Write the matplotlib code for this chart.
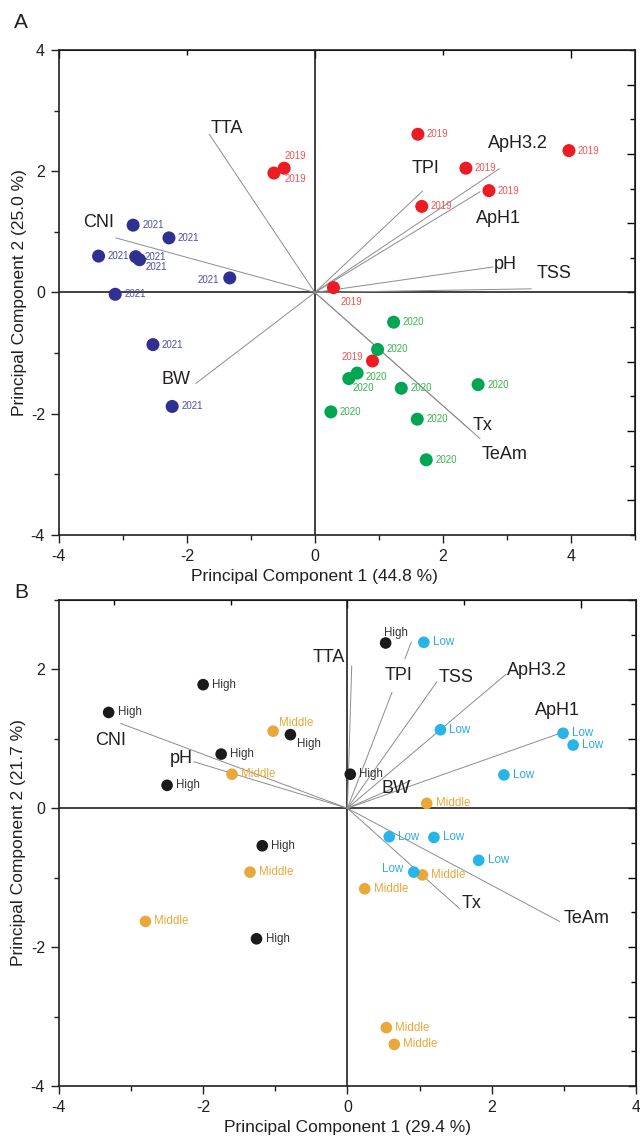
import numpy as np
import matplotlib
matplotlib.use("Agg")
import matplotlib.pyplot as plt

plt.rcParams['font.family'] = ['Liberation Sans', 'DejaVu Sans']
plt.rcParams['axes.unicode_minus'] = False

# panel A scores (PC1, PC2) per harvest year
a_2019_pc1 = [1.61, 2.36, 2.72, 3.97, 1.67, -0.48, -0.64, 0.29, 0.90]
a_2019_pc2 = [2.61, 2.05, 1.68, 2.34, 1.42, 2.05, 1.97, 0.08, -1.13]
a_2020_pc1 = [1.23, 0.98, 0.66, 0.53, 1.35, 2.55, 0.25, 1.60, 1.74]
a_2020_pc2 = [-0.49, -0.94, -1.33, -1.42, -1.58, -1.52, -1.97, -2.09, -2.76]
a_2021_pc1 = [-2.84, -2.28, -3.38, -2.80, -2.74, -1.33, -3.12, -2.53, -2.23]
a_2021_pc2 = [1.11, 0.90, 0.60, 0.59, 0.54, 0.24, -0.03, -0.86, -1.88]

# panel A loadings
a_vars = ['TTA', 'CNI', 'BW', 'TPI', 'ApH3.2', 'ApH1', 'pH', 'TSS', 'Tx', 'TeAm']
a_load_pc1 = [-1.65, -3.11, -1.86, 1.68, 2.88, 2.58, 2.78, 3.38, 2.42, 2.58]
a_load_pc2 = [2.61, 0.90, -1.50, 1.67, 2.04, 1.66, 0.42, 0.06, -2.26, -2.41]

# panel B scores per level
b_high_pc1 = [-2.00, -3.31, -1.75, -0.79, -2.50, -1.18, -1.26, 0.53, 0.04]
b_high_pc2 = [1.78, 1.38, 0.78, 1.06, 0.33, -0.54, -1.88, 2.38, 0.49]
b_mid_pc1 = [-1.03, -1.60, 1.10, 1.04, 0.24, -1.35, -2.80, 0.54, 0.65]
b_mid_pc2 = [1.11, 0.49, 0.07, -0.96, -1.16, -0.92, -1.63, -3.16, -3.40]
b_low_pc1 = [1.06, 1.29, 2.99, 3.13, 2.17, 0.58, 1.20, 1.82, 0.92]
b_low_pc2 = [2.39, 1.13, 1.08, 0.91, 0.48, -0.41, -0.42, -0.75, -0.92]

# panel B loadings
b_vars = ['CNI', 'pH', 'TTA', 'TPI', 'TSS', 'ApH3.2', 'ApH1', 'BW', 'Tx', 'TeAm']
b_load_pc1 = [-3.14, -2.13, 0.06, 0.885, 1.24, 2.20, 2.95, 0.88, 1.56, 2.94]
b_load_pc2 = [1.22, 0.67, 2.05, 2.39, 1.82, 1.93, 1.08, 0.40, -1.45, -1.63]

# label placement (offset in pt, ha, va)
R = (6.5, 0, 'left', 'center')
a_2019_pos = [R, R, R, R, R, (0, 8.6, 'left', 'center'), (8, -4, 'left', 'center'),
              (5, -10, 'left', 'center'), (-7, 3, 'right', 'center')]
a_2020_pos = [R, R, (6, -3, 'left', 'center'), (3, -7, 'left', 'center'), R, R, R, R, R]
a_2021_pos = [R, R, R, R, (4.5, -5, 'left', 'center'), (-8, -1.5, 'right', 'center'), R, R, R]
b_high_pos = [R, R, R, (5, -7, 'left', 'center'), R, R, R, (-1, 7.5, 'left', 'center'), R]
b_mid_pos = [(4, 6, 'left', 'center'), R, R, R, R, R, R, R, R]
b_low_pos = [R, R, R, R, R, R, R, R, (-8, 2, 'right', 'center')]

a_var_pos = [(1, -2, 'left', 'bottom'), (-1.5, 5, 'right', 'bottom'), (-4, 3, 'right', 'center'),
             (2, 10, 'center', 'bottom'), (-8, 12, 'left', 'bottom'), (-3, -13, 'left', 'top'),
             (1, 2, 'left', 'center'), (4, 11, 'left', 'center'), (2, 3, 'left', 'center'),
             (1.5, -5, 'left', 'top')]
b_var_pos = [(3.6, -5.8, 'right', 'top'), (-1, 2, 'right', 'center'), (-5, 0, 'right', 'bottom'),
             (-9, -24, 'center', 'center'), (1.5, 3, 'left', 'center'), (1, 3, 'left', 'center'),
             (-2, 10, 'center', 'bottom'), (0, 0, 'right', 'top'), (1.5, 4, 'left', 'center'),
             (3, 2, 'left', 'center')]


def scores(ax, xs, ys, lab, pos, mcol, tcol, size, fs):
    ax.scatter(xs, ys, s=size, color=mcol, edgecolors='none', zorder=4)
    for x, y, p in zip(xs, ys, pos):
        ax.annotate(lab, (x, y), xytext=(p[0], p[1]), textcoords='offset points',
                    ha=p[2], va=p[3], fontsize=fs, color=tcol, zorder=5)


def loadings(ax, names, lx, ly, pos, masked=()):
    for n, x, y, p in zip(names, lx, ly, pos):
        ax.plot([0, x], [0, y], color='#8c8c8c', lw=0.7, zorder=2)
        kw = {}
        if n in masked:
            kw['bbox'] = dict(facecolor='white', edgecolor='none', pad=6)
        ax.annotate(n, (x, y), xytext=(p[0], p[1]), textcoords='offset points',
                    ha=p[2], va=p[3], fontsize=13, color='#231f20', zorder=3, **kw)


def frame(ax, xlim, ylim, top_major, top_minor, right_major, right_minor):
    ax.set_xlim(*xlim)
    ax.set_ylim(*ylim)
    ax.axhline(0, color='#231f20', lw=1.2, zorder=1)
    ax.axvline(0, color='#231f20', lw=1.2, zorder=1)
    ax.set_xticks([-4, -2, 0, 2, 4])
    ax.set_xticks([t for t in range(-3, int(xlim[1]) + 1, 2)], minor=True)
    ax.set_yticks([t for t in range(-4, int(ylim[1]) + 1, 2)])
    ax.set_yticks([t for t in range(-3, int(ylim[1]) + 1, 2)], minor=True)
    ax.tick_params(which='both', direction='out', labelsize=11.5, colors='#231f20',
                   top=False, right=False, pad=4)
    ax.tick_params(which='major', length=6, width=1)
    ax.tick_params(which='minor', length=3.5, width=1)
    for s in ax.spines.values():
        s.set_linewidth(1.2)
        s.set_color('#231f20')
    top = ax.secondary_xaxis('top')
    top.set_xticks(top_major)
    top.set_xticks(top_minor, minor=True)
    top.set_xticklabels([])
    top.tick_params(which='both', direction='in', width=1)
    top.tick_params(which='major', length=6)
    top.tick_params(which='minor', length=3.5)
    right = ax.secondary_yaxis('right')
    right.set_yticks(right_major)
    right.set_yticks(right_minor, minor=True)
    right.set_yticklabels([])
    right.tick_params(which='both', direction='in', width=1)
    right.tick_params(which='major', length=6)
    right.tick_params(which='minor', length=3.5)


fig = plt.figure(figsize=(6.4, 11.38), dpi=100)

# ---- panel A
axA = fig.add_axes([0.092, 0.5299, 0.9, 0.4262])
step = 8 / 7
frame(axA, (-4, 5), (-4, 4), [-4, 0, 4], [-2, 2],
      [k * step for k in range(-3, 4)], [(k + 0.5) * step for k in range(-4, 4)])
loadings(axA, a_vars, a_load_pc1, a_load_pc2, a_var_pos)
scores(axA, a_2019_pc1, a_2019_pc2, '2019', a_2019_pos, '#ed1c24', '#f05454', 88, 7)
scores(axA, a_2020_pc1, a_2020_pc2, '2020', a_2020_pos, '#00a651', '#39b54a', 88, 7)
scores(axA, a_2021_pc1, a_2021_pc2, '2021', a_2021_pos, '#2e3192', '#4b4fa8', 88, 7)
axA.set_xlabel('Principal Component 1 (44.8 %)', fontsize=12.5, color='#231f20')
axA.set_ylabel('Principal Component 2 (25.0 %)', fontsize=12.5, color='#231f20')
axA.xaxis.set_label_coords(0.443, -0.07)
axA.yaxis.set_label_coords(-0.056, 0.5)

# ---- panel B
axB = fig.add_axes([0.092, 0.0457, 0.9016, 0.4271])
tstep = 1.62
frame(axB, (-4, 4), (-4, 3), [0, 2 * tstep], [-2 * tstep, -tstep, tstep],
      list(range(-4, 4)), [k + 0.5 for k in range(-4, 3)])
loadings(axB, b_vars, b_load_pc1, b_load_pc2, b_var_pos, masked=('TPI',))
scores(axB, b_high_pc1, b_high_pc2, 'High', b_high_pos, '#1a1a1a', '#333333', 70, 8.3)
scores(axB, b_mid_pc1, b_mid_pc2, 'Middle', b_mid_pos, '#e9a93a', '#e8a838', 70, 8.3)
scores(axB, b_low_pc1, b_low_pc2, 'Low', b_low_pos, '#27b4e8', '#29abe2', 70, 8.3)
axB.set_xlabel('Principal Component 1 (29.4 %)', fontsize=12.5, color='#231f20')
axB.set_ylabel('Principal Component 2 (21.7 %)', fontsize=12.5, color='#231f20')
axB.xaxis.set_label_coords(0.5, -0.07)
axB.yaxis.set_label_coords(-0.057, 0.5)

fig.text(0.033, 1 - 22 / 1138, 'A', fontsize=15, ha='center', va='center', color='#231f20')
fig.text(0.033, 1 - 593 / 1138, 'B', fontsize=15, ha='center', va='center', color='#231f20')

fig.savefig('out.png', dpi=100)
